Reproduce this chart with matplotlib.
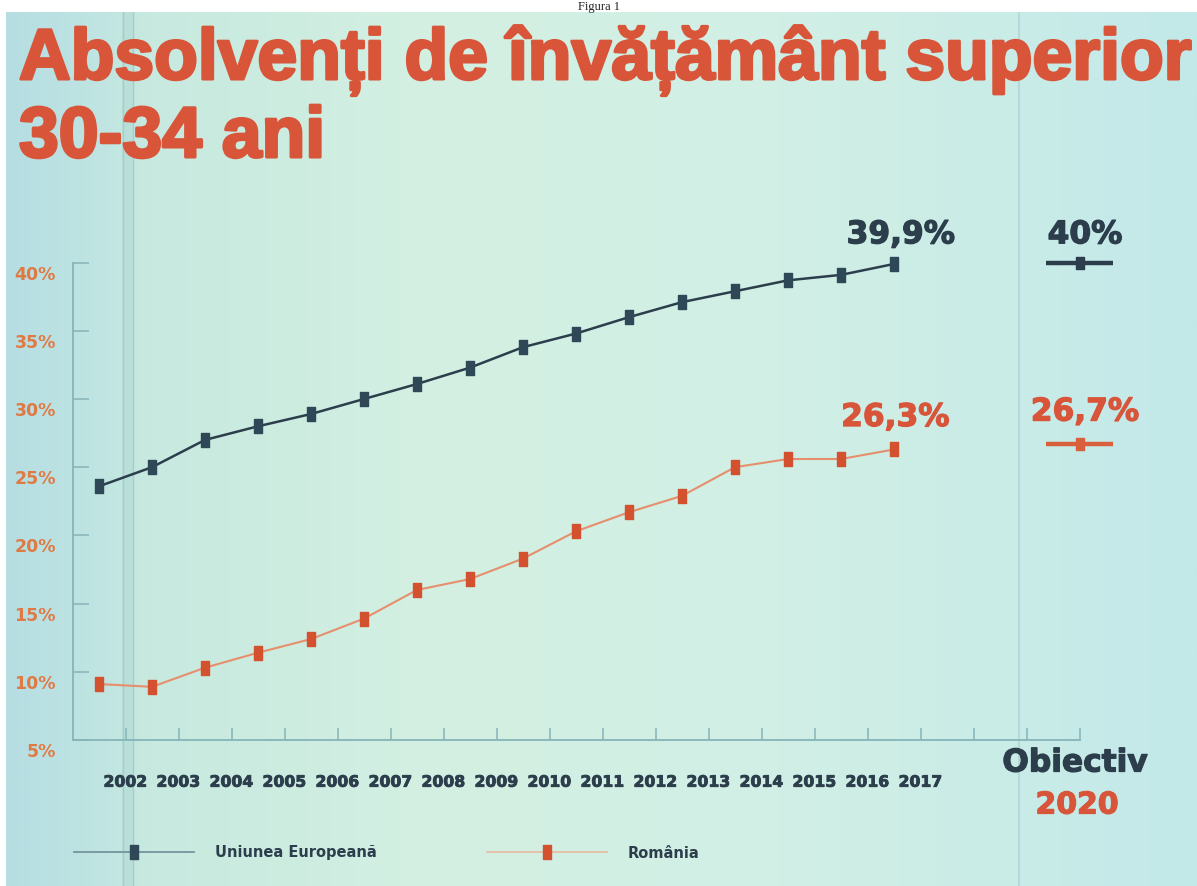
import matplotlib
matplotlib.use("Agg")
import matplotlib.pyplot as plt
import numpy as np
from matplotlib.path import Path
from matplotlib.lines import Line2D
from matplotlib.colors import LinearSegmentedColormap
from matplotlib.transforms import ScaledTranslation
import matplotlib.patheffects as pe

# ---------------- data ----------------
years = [2002, 2003, 2004, 2005, 2006, 2007, 2008, 2009, 2010,
         2011, 2012, 2013, 2014, 2015, 2016, 2017]
eu_values = [23.6, 25.0, 27.0, 28.0, 28.9, 30.0, 31.1, 32.3, 33.8,
             34.8, 36.0, 37.1, 37.9, 38.7, 39.1, 39.9]
ro_values = [9.1, 8.9, 10.3, 11.4, 12.4, 13.9, 16.0, 16.8, 18.3,
             20.3, 21.7, 22.9, 25.0, 25.6, 25.6, 26.3]
target_eu = 40.0
target_ro = 26.7
y_ticks = [5, 10, 15, 20, 25, 30, 35, 40]
y_tick_labels = ["5%", "10%", "15%", "20%", "25%", "30%", "35%", "40%"]
title_line1 = "Absolvenți de învățământ superior"
title_line2 = "30-34 ani"
last_eu_label = "39,9%"
last_ro_label = "26,3%"
target_eu_label = "40%"
target_ro_label = "26,7%"
series_names = ["Uniunea Europeană", "România"]

# ---------------- style ----------------
W, H = 1197, 886
NAVY = "#2c3e4c"
ORANGE = "#d8553a"
ORANGE_LIGHT = "#e07a45"
RO_LINE = "#e68f6c"
AXIS = "#86b4b9"
BOLD = "DejaVu Sans"
TITLE_FONT = "Liberation Sans"

fig = plt.figure(figsize=(W / 100, H / 100), dpi=100, facecolor="white")

def fx(px):
    return px / W

def fy(py):
    return 1 - py / H

# background gradient (scan colour)
bg = fig.add_axes([fx(6), 0, 1 - fx(6), fy(12)])
bg.set_axis_off()
cmap = LinearSegmentedColormap.from_list(
    "bgc",
    [(0.0, "#b6dee2"), (0.06, "#bde3e2"), (0.12, "#c7e9df"), (0.35, "#d3f0e2"),
     (0.65, "#d1efe5"), (0.85, "#c9ece7"), (1.0, "#c2e8e9")])
grad = np.linspace(0, 1, 512).reshape(1, -1)
bg.imshow(grad, aspect="auto", cmap=cmap, extent=[0, 1, 0, 1])
bg.set_xlim(0, 1)
bg.set_ylim(0, 1)
# faint scan bands / divider
bg.axvspan((122 - 6) / (W - 6), (134 - 6) / (W - 6), color="#a9d2cf", alpha=0.35, lw=0)
bg.axvline((123 - 6) / (W - 6), color="#a6cdca", lw=1)
bg.axvline((133 - 6) / (W - 6), color="#a6cdca", lw=1)
bg.axvline((1019 - 6) / (W - 6), color="#b0d6d4", lw=1.2)

# main axes: x unit = 53 px, point i at x = 99 + 53 i ; 5% at y=740, 13.64 px per %
x0_px, unit = 99.0, 53.0
xmin, xmax = -0.5, (W - x0_px) / unit
ymin, ymax = 5.0, 45.0
ppp = 13.64
left_px = x0_px + xmin * unit
ax = fig.add_axes([fx(left_px), fy(740), (xmax - xmin) * unit / W, (ymax - ymin) * ppp / H])
ax.set_xlim(xmin, xmax)
ax.set_ylim(ymin, ymax)
ax.patch.set_alpha(0)

for s in ["top", "right"]:
    ax.spines[s].set_visible(False)
for s in ["left", "bottom"]:
    ax.spines[s].set_color(AXIS)
    ax.spines[s].set_linewidth(1.3)
ax.spines["left"].set_bounds(5, 40)
ax.spines["bottom"].set_bounds(-0.5, 18.5)

xpos = np.arange(len(years))
tick_pos = np.arange(0, 19) + 0.5
tick_labels = [str(y) for y in years] + [""] * (len(tick_pos) - len(years))
ax.set_xticks(tick_pos)
ax.set_xticklabels(tick_labels)
ax.tick_params(axis="x", direction="in", length=8.5, width=1.1, color=AXIS,
               pad=25, labelsize=11.3, labelcolor=NAVY)
thick_small = [pe.withStroke(linewidth=0.6, foreground=NAVY)]
for lab in ax.get_xticklabels():
    lab.set_fontfamily(BOLD)
    lab.set_fontweight("bold")
    lab.set_path_effects(thick_small)

ax.set_yticks(y_ticks)
ax.set_yticklabels(y_tick_labels)
ax.tick_params(axis="y", direction="in", length=11.5, width=1.1, color=AXIS,
               pad=12, labelsize=12.5, labelcolor=ORANGE_LIGHT)
shift = ScaledTranslation(0, -10 / 100, fig.dpi_scale_trans)
for lab in ax.get_yticklabels():
    lab.set_fontfamily(BOLD)
    lab.set_fontweight("bold")
    lab.set_transform(lab.get_transform() + shift)

# tall rectangle marker
rect = Path([(-0.32, -0.5), (0.32, -0.5), (0.32, 0.5), (-0.32, 0.5), (-0.32, -0.5)],
            [Path.MOVETO, Path.LINETO, Path.LINETO, Path.LINETO, Path.CLOSEPOLY])

ax.plot(xpos, eu_values, color=NAVY, lw=1.8, marker=rect, markersize=10,
        markerfacecolor="#2f4858", markeredgecolor="#2f4858", zorder=3)
ax.plot(xpos, ro_values, color=RO_LINE, lw=1.5, marker=rect, markersize=10,
        markerfacecolor="#d4512f", markeredgecolor="#d4512f", zorder=3)

# 2020 targets
tx = 18.5
half = 0.64
ax.plot([tx - half, tx, tx + half], [target_eu] * 3, color=NAVY, lw=3.2,
        marker=rect, markersize=8, markevery=[1], solid_capstyle="butt", clip_on=False)
ax.plot([tx - half, tx, tx + half], [target_ro] * 3, color="#d8603c", lw=3.2,
        marker=rect, markersize=8, markevery=[1], solid_capstyle="butt", clip_on=False)

# value labels
heavy_navy = [pe.withStroke(linewidth=0.9, foreground=NAVY)]
heavy_orange = [pe.withStroke(linewidth=0.9, foreground=ORANGE)]
ax.annotate(last_eu_label, xy=(xpos[-1], eu_values[-1]), xytext=(5, 21),
            textcoords="offset points", ha="center", va="center", fontsize=22.5,
            fontweight="bold", family=BOLD, color=NAVY, path_effects=heavy_navy)
ax.annotate(last_ro_label, xy=(xpos[-1], ro_values[-1]), xytext=(1, 23),
            textcoords="offset points", ha="center", va="center", fontsize=22.5,
            fontweight="bold", family=BOLD, color=ORANGE, path_effects=heavy_orange)
ax.annotate(target_eu_label, xy=(tx, target_eu), xytext=(4, 20),
            textcoords="offset points", ha="center", va="center", fontsize=22.5,
            fontweight="bold", family=BOLD, color=NAVY, path_effects=heavy_navy)
ax.annotate(target_ro_label, xy=(tx, target_ro), xytext=(4, 23),
            textcoords="offset points", ha="center", va="center", fontsize=22.5,
            fontweight="bold", family=BOLD, color=ORANGE, path_effects=heavy_orange)

# "Obiectiv 2020"
fig.text(fx(1075), fy(763), "Obiectiv", ha="center", va="center", fontsize=22.5,
         fontweight="bold", family=BOLD, color=NAVY, path_effects=heavy_navy)
fig.text(fx(1077), fy(805), "2020", ha="center", va="center", fontsize=21.5,
         fontweight="bold", family=BOLD, color=ORANGE, path_effects=heavy_orange)

# title
heavy_title = [pe.withStroke(linewidth=2.2, foreground=ORANGE)]
fig.text(fx(19), fy(79), title_line1, ha="left", va="baseline", fontsize=51.5,
         fontweight="bold", family=TITLE_FONT, color=ORANGE, path_effects=heavy_title)
fig.text(fx(19), fy(157), title_line2, ha="left", va="baseline", fontsize=51.5,
         fontweight="bold", family=TITLE_FONT, color=ORANGE, path_effects=heavy_title)
fig.text(0.5, fy(10), "Figura 1", ha="center", va="baseline", fontsize=9,
         family="Liberation Serif", color="#222222")

# legend
h_eu = Line2D([], [], color="#6d8e96", lw=1.2, marker=rect, markersize=10,
              markerfacecolor="#2f4858", markeredgecolor="#2f4858")
h_ro = Line2D([], [], color="#ebb9a0", lw=1.2, marker=rect, markersize=10,
              markerfacecolor="#d4512f", markeredgecolor="#d4512f")
leg = fig.legend([h_eu, h_ro], series_names, loc="center left",
                 bbox_to_anchor=(fx(74), fy(853)), ncol=2, frameon=False,
                 borderpad=0, borderaxespad=0, handlelength=8.2,
                 handletextpad=1.45, columnspacing=7.6,
                 prop={"family": BOLD, "weight": "bold", "size": 10.5})
for t in leg.get_texts():
    t.set_color(NAVY)

fig.savefig("out.png", dpi=100, facecolor="white")
